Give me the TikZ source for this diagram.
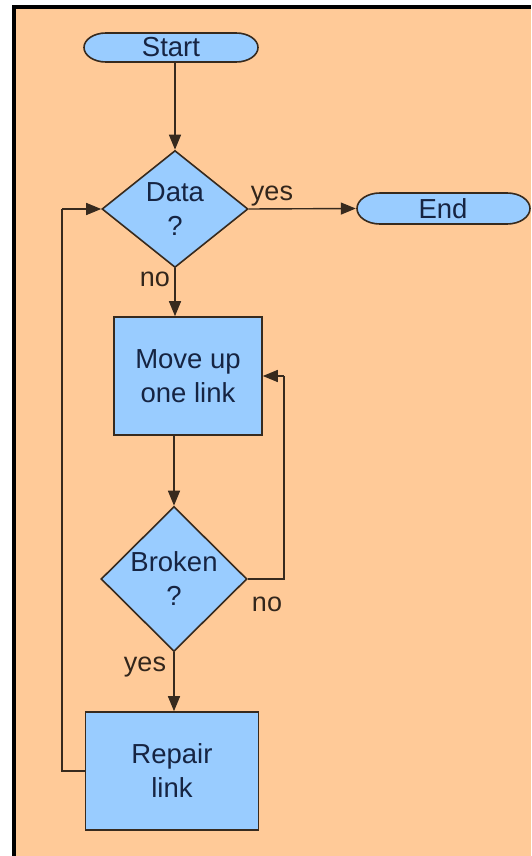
\documentclass[tikz,border=0pt]{standalone}
\usepackage{fontspec}
\setmainfont{Liberation Sans}
\usetikzlibrary{shapes.geometric,arrows.meta}
\definecolor{peach}{RGB}{255,202,152}
\definecolor{boxblue}{RGB}{153,204,255}
\definecolor{edge}{RGB}{55,42,30}
\definecolor{ink}{RGB}{22,36,66}
\definecolor{lab}{RGB}{50,38,28}
\tikzset{
  shp/.style={draw=edge, line width=1.6pt, fill=boxblue, text=ink, font=\fontsize{27.5}{34}\selectfont, align=center, inner sep=0pt},
  termtext/.style={text=ink, font=\fontsize{27.5}{34}\selectfont, inner sep=0pt},
  procbox/.style={shp, rectangle},
  decide/.style={shp, diamond},
  conn/.style={draw=edge, line width=1.4pt, -{Triangle[length=15pt,width=12pt]}},
  plain/.style={draw=edge, line width=1.4pt},
  termshape/.style={draw=edge, line width=1.6pt, fill=boxblue},
  lbl/.style={text=lab, font=\fontsize{27}{30}\selectfont, inner sep=0pt}
}
\begin{document}
\begin{tikzpicture}[x=1pt,y=-1pt]
\useasboundingbox (0,0) rectangle (531,856);
\fill[white] (0,0) rectangle (531,856);
\fill[black] (12,5) rectangle (531,856);
\fill[peach] (16,9) rectangle (531,856);

% terminals: shape drawn as stadium with elliptic ends
\path[termshape] (106,33) -- (236,33) arc[start angle=90,end angle=-90,x radius=22pt,y radius=14.5pt] -- (106,62) arc[start angle=270,end angle=90,x radius=22pt,y radius=14.5pt] -- cycle;
\node[termtext, minimum width=174pt, minimum height=29pt] (start) at (171,47.5) {Start};
\path[termshape] (380,193) -- (507,193) arc[start angle=90,end angle=-90,x radius=23pt,y radius=15.5pt] -- (380,224) arc[start angle=270,end angle=90,x radius=23pt,y radius=15.5pt] -- cycle;
\node[termtext, minimum width=174pt, minimum height=31pt] (end) at (443,208.5) {End};

\node[decide, minimum width=146pt, minimum height=117pt] (data) at (175,209) {Data\\?};
\node[procbox, minimum width=148pt, minimum height=118pt] (move) at (188,376) {Move up\\one link};
\node[decide, minimum width=146pt, minimum height=145pt] (broken) at (174,579) {Broken\\?};
\node[procbox, minimum width=173pt, minimum height=118pt] (repair) at (172,771) {Repair\\link};

\coordinate (c1) at (284,579);
\coordinate (c2) at (284,376);
\coordinate (c3) at (62,771);
\coordinate (c4) at (62,209);

\draw[conn] (start.south -| 175,0) -- (data.north);
\draw[conn] (data.east) -- (end.west);
\draw[conn] (data.south) -- (move.north -| data.south);
\draw[conn] (move.south -| broken.north) -- (broken.north);
\draw[plain] (broken.east) -- (c1) -- (c2);
\draw[conn] (c2) -- (move.east);
\draw[conn] (broken.south) -- (repair.north -| broken.south);
\draw[plain] (repair.west) -- (c3) -- (c4);
\draw[conn] (c4) -- (data.west);

\node[lbl] (yes1) at (272,196) {yes};
\node[lbl] (no1) at (155,279) {no};
\node[lbl] (no2) at (267,604) {no};
\node[lbl] (yes2) at (145,667) {yes};
\end{tikzpicture}
\end{document}
